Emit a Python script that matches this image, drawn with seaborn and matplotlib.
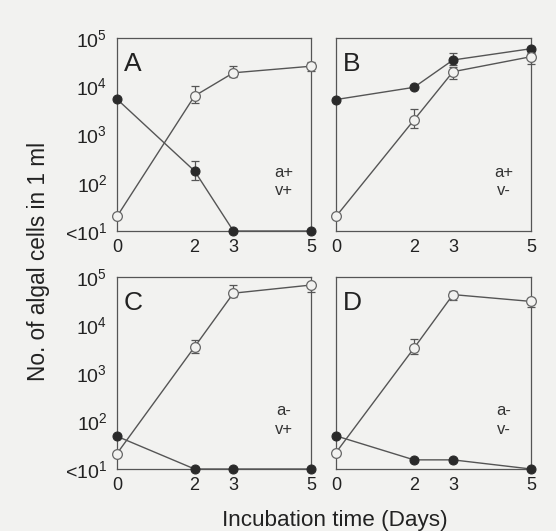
import numpy as np
import pandas as pd
import matplotlib.pyplot as plt
import seaborn as sns

# ---------- DATA ----------
days = [0, 2, 3, 5]
panel_letters = ['A', 'B', 'C', 'D']
conditions = ['a+\nv+', 'a+\nv-', 'a-\nv+', 'a-\nv-']

# open circles
open_A = [20, 6300, 19000, 26000]
open_B = [20, 2000, 20000, 41000]
open_C = [21, 3500, 46000, 68000]
open_D = [22, 3300, 43000, 31000]
# filled circles (10 = "<10^1")
filled_A = [5400, 175, 10, 10]
filled_B = [5300, 9500, 35000, 60000]
filled_C = [48, 10, 10, 10]
filled_D = [49, 15.5, 15.5, 10]

nan = np.nan
open_A_lo = [nan, 4600, 15600, 21000]
open_A_hi = [nan, 10000, 25700, 32000]
filled_A_lo = [nan, 115, nan, nan]
filled_A_hi = [nan, 280, nan, nan]
open_B_lo = [nan, 1350, 14000, 29000]
open_B_hi = [nan, 3400, 25500, 47000]
filled_B_lo = [nan, nan, 28000, 49000]
filled_B_hi = [nan, nan, 50000, 66000]
open_C_lo = [nan, 2600, 38000, 49000]
open_C_hi = [nan, 4900, 68000, 76000]
open_D_lo = [nan, 2500, 33000, 24000]
open_D_hi = [nan, 5100, 52000, 37000]

ytick_vals = [10, 100, 1000, 10000, 100000]
ytick_labels = [r'<$10^1$', r'$10^2$', r'$10^3$', r'$10^4$', r'$10^5$']
xtick_vals = [0, 2, 3, 5]

panels = [
    (open_A, filled_A, (open_A_lo, open_A_hi), (filled_A_lo, filled_A_hi)),
    (open_B, filled_B, (open_B_lo, open_B_hi), (filled_B_lo, filled_B_hi)),
    (open_C, filled_C, (open_C_lo, open_C_hi), None),
    (open_D, filled_D, (open_D_lo, open_D_hi), None),
]

# ---------- STYLE ----------
BG = '#f2f2f0'
LINE = '#555555'
sns.set_style('white')
plt.rcParams['font.family'] = ['Liberation Sans', 'DejaVu Sans']
plt.rcParams['mathtext.fontset'] = 'custom'
plt.rcParams['mathtext.rm'] = 'Liberation Sans'
plt.rcParams['mathtext.it'] = 'Liberation Sans'

fig = plt.figure(figsize=(5.56, 5.31), dpi=100, facecolor=BG)

W, H = 556, 531
boxes = [(117, 38, 311, 231), (336, 38, 531, 231),
         (117, 277, 311, 469), (336, 277, 531, 469)]


def draw_err(ax, vals, bounds):
    lo, hi = bounds
    v = np.array(vals, dtype=float)
    lo = np.array(lo, dtype=float)
    hi = np.array(hi, dtype=float)
    m = ~np.isnan(lo)
    x = np.array(days)[m]
    ax.errorbar(x, v[m], yerr=[v[m] - lo[m], hi[m] - v[m]], fmt='none',
                ecolor=LINE, elinewidth=0.9, capsize=3, capthick=0.9,
                zorder=2, clip_on=False)


for i, (op, fi, op_err, fi_err) in enumerate(panels):
    x0, y0, x1, y1 = boxes[i]
    ax = fig.add_axes([x0 / W, 1 - y1 / H, (x1 - x0) / W, (y1 - y0) / H])
    ax.set_facecolor(BG)
    df = pd.DataFrame({'day': days, 'open': op, 'filled': fi})

    sns.lineplot(data=df, x='day', y='filled', ax=ax, estimator=None,
                 color=LINE, lw=1, marker='o', markersize=6.5,
                 markerfacecolor='#2a2a2a', markeredgecolor='#2a2a2a',
                 clip_on=False, zorder=3)
    sns.lineplot(data=df, x='day', y='open', ax=ax, estimator=None,
                 color=LINE, lw=1, marker='o', markersize=7,
                 markerfacecolor=BG, markeredgecolor='#666666',
                 markeredgewidth=0.9, clip_on=False, zorder=4)
    draw_err(ax, op, op_err)
    if fi_err is not None:
        draw_err(ax, fi, fi_err)

    ax.set_yscale('log')
    ax.set_xlim(0, 5)
    ax.set_ylim(10, 100000)
    ax.set_yticks(ytick_vals)
    ax.minorticks_off()
    ax.set_xticks(xtick_vals)
    ax.set_xticklabels([str(d) for d in xtick_vals])
    if i % 2 == 0:
        ax.set_yticklabels(ytick_labels)
    else:
        ax.set_yticklabels([])
    ax.tick_params(axis='y', direction='out', length=4, width=0.9,
                   color='#444444', labelsize=14, pad=3, labelcolor='#222222')
    ax.tick_params(axis='x', direction='out', length=3, width=0.8,
                   color='#777777', labelsize=13, pad=3,
                   labelcolor='#222222')
    ax.set_xlabel('')
    ax.set_ylabel('')
    for s in ax.spines.values():
        s.set_color('#555555')
        s.set_linewidth(0.9)

    ax.text(0.035, 0.925, panel_letters[i], transform=ax.transAxes,
            fontsize=19, va='top', ha='left', color='#222222')
    ax.text(0.86, 0.256, conditions[i], transform=ax.transAxes,
            fontsize=12, va='center', ha='center', color='#333333',
            linespacing=1.3)

fig.text(0.070, 0.507, 'No. of algal cells in 1 ml', rotation=90,
         fontsize=16.3, va='center', ha='center', color='#222222')
fig.text(0.6025, 0.019, 'Incubation time (Days)', fontsize=16.2,
         va='center', ha='center', color='#222222')

fig.savefig('out.png', dpi=100, facecolor=BG)
